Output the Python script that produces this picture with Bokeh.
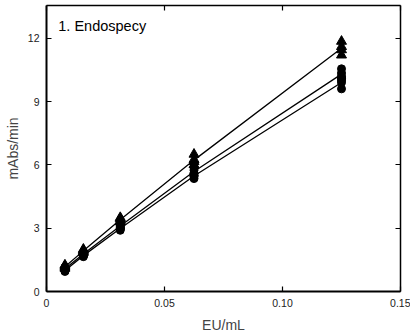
from bokeh.plotting import figure
from bokeh.models import LinearAxis, FixedTicker, Label, Range1d, CustomJSTickFormatter
from bokeh.embed import file_html
from bokeh.resources import INLINE

# Endotoxin concentrations (two-fold dilution series), EU/mL
conc = [0.0078125, 0.015625, 0.03125, 0.0625, 0.125]

# Replicate reaction rates (mAbs/min) per concentration, three lots
lot_a = [  # triangles
    [1.15, 1.20, 1.10, 1.25],
    [1.90, 2.00, 1.85, 1.95],
    [3.35, 3.50, 3.30, 3.45],
    [6.00, 6.25, 6.50, 6.15],
    [11.20, 11.45, 11.85, 11.60],
]
lot_b = [  # circles
    [1.05, 1.10, 1.00, 1.15],
    [1.75, 1.80, 1.70, 1.85],
    [3.05, 3.20, 3.00, 3.15],
    [5.60, 5.75, 5.90, 5.50],
    [10.10, 10.35, 10.55, 10.20],
]
lot_c = [  # circles
    [0.95, 1.00, 1.05, 1.00],
    [1.65, 1.70, 1.75, 1.70],
    [2.95, 3.00, 3.10, 2.90],
    [5.35, 5.50, 5.45, 5.60],
    [9.60, 9.90, 10.10, 10.00],
]

x_ticks = [0, 0.05, 0.10, 0.15]
x_tick_labels = ["0", "0.05", "0.10", "0.15"]
y_ticks = [0, 3, 6, 9, 12]

FONT = "Liberation Sans"

p = figure(width=410, height=335, output_backend="svg", toolbar_location=None,
           x_range=Range1d(0, 0.15), y_range=Range1d(0, 13.55),
           min_border_left=46, min_border_right=10, min_border_top=5,
           min_border_bottom=44)
p.grid.visible = False
p.outline_line_color = None
p.background_fill_color = "white"
p.border_fill_color = "white"

def style_axis(ax):
    ax.axis_line_color = "black"
    ax.axis_line_width = 2
    ax.major_tick_in = 5
    ax.major_tick_out = 0
    ax.major_tick_line_width = 1.2
    ax.minor_tick_line_color = None
    ax.major_label_text_font = FONT
    ax.major_label_text_font_size = "10.5px"
    ax.major_label_text_color = "#222222"
    ax.major_label_standoff = 7
    ax.axis_label_text_font = FONT
    ax.axis_label_text_font_style = "normal"
    ax.axis_label_text_font_size = "14px"

xa = p.xaxis[0]
style_axis(xa)
xa.ticker = FixedTicker(ticks=x_ticks)
xa.major_label_overrides = dict(zip(x_ticks, x_tick_labels))
xa.axis_label = "EU/mL"
xa.axis_label_standoff = 7

ya = p.yaxis[0]
style_axis(ya)
ya.ticker = FixedTicker(ticks=y_ticks)
ya.axis_label = "mAbs/min"
ya.axis_label_standoff = 4

# frame axes on top and right: inward ticks, no labels
blank = CustomJSTickFormatter(code="return ''")
top = LinearAxis(ticker=FixedTicker(ticks=x_ticks), formatter=blank)
style_axis(top)
top.axis_line_width = 1.5
top.major_label_standoff = 0
p.add_layout(top, "above")

right = LinearAxis(ticker=FixedTicker(ticks=y_ticks), formatter=blank)
style_axis(right)
right.axis_line_width = 1.5
right.major_label_standoff = 0
p.add_layout(right, "right")

for lot, marker, size in [(lot_a, "triangle", 10), (lot_b, "circle", 8), (lot_c, "circle", 8)]:
    means = [sum(r) / len(r) for r in lot]
    p.line(conc, means, line_color="black", line_width=1.3)
    xs = [c for c, reps in zip(conc, lot) for _ in reps]
    ys = [v for reps in lot for v in reps]
    p.scatter(xs, ys, marker=marker, size=size, fill_color="black", line_color="black")

p.add_layout(Label(x=0.005, y=12.6, text="1. Endospecy", text_font=FONT,
                   text_font_size="14.5px", text_color="black",
                   text_baseline="middle"))

open("out.html", "w").write(file_html(p, INLINE))
